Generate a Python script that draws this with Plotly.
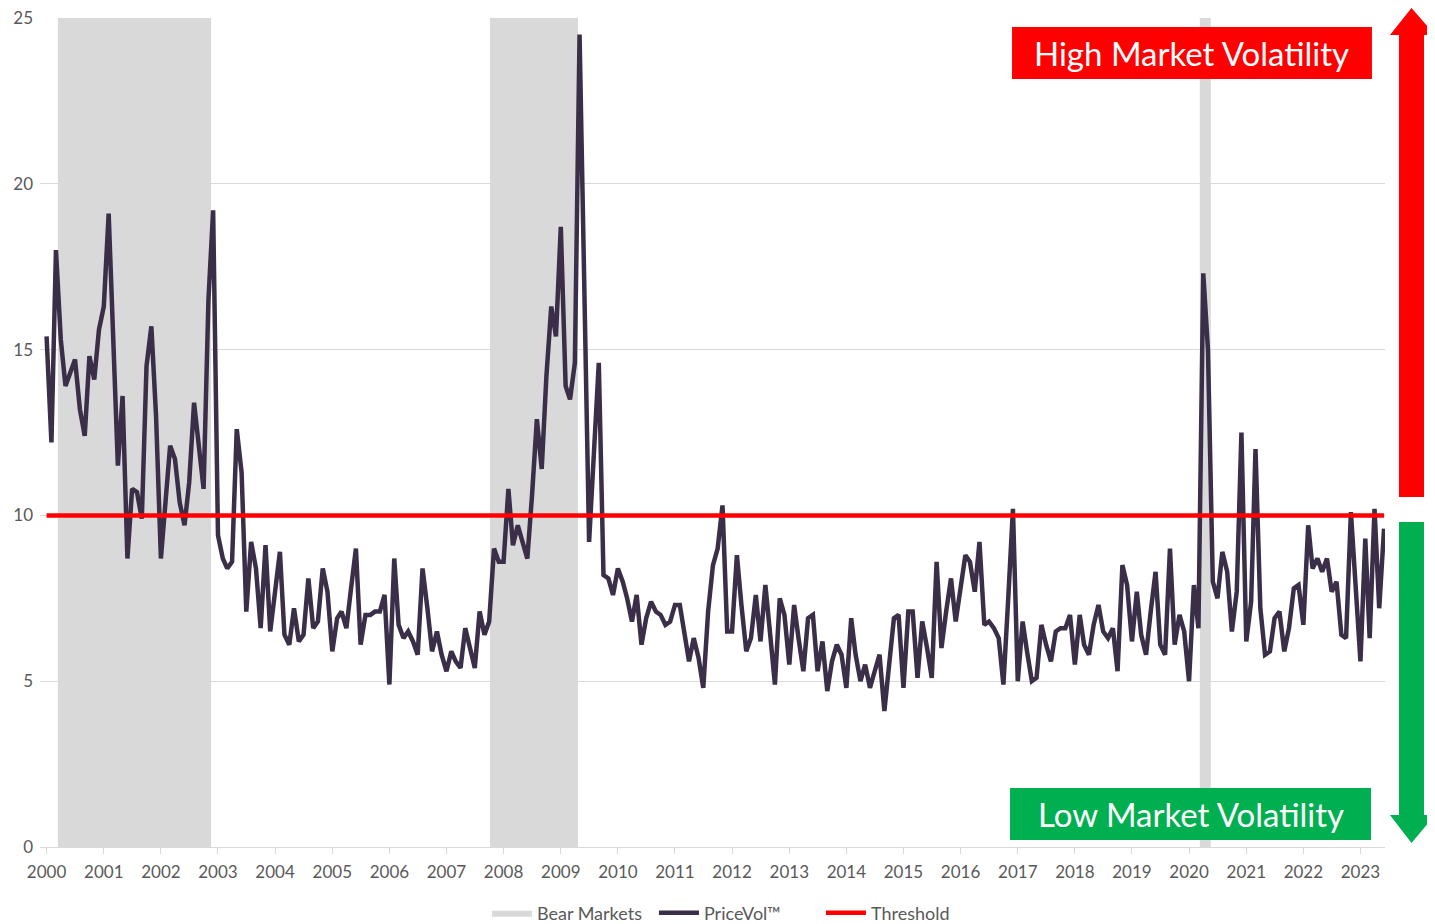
import pandas as pd
import plotly.graph_objects as go

# monthly PriceVol readings, Jan 2000 onwards
pricevol = [
    15.4, 12.2, 18.0, 15.3, 13.9, 14.3, 14.7, 13.2, 12.4, 14.8, 14.1, 15.6,
    16.3, 19.1, 15.3, 11.5, 13.6, 8.7, 10.8, 10.7, 9.9, 14.5, 15.7, 13.0,
    8.7, 10.4, 12.1, 11.7, 10.4, 9.7, 11.0, 13.4, 12.2, 10.8, 16.5, 19.2,
    9.4, 8.7, 8.4, 8.6, 12.6, 11.3, 7.1, 9.2, 8.4, 6.6, 9.1, 6.5,
    7.7, 8.9, 6.4, 6.1, 7.2, 6.2, 6.4, 8.1, 6.6, 6.8, 8.4, 7.7,
    5.9, 6.9, 7.1, 6.6, 7.8, 9.0, 6.1, 7.0, 7.0, 7.1, 7.1, 7.6,
    4.9, 8.7, 6.7, 6.3, 6.5, 6.2, 5.8, 8.4, 7.2, 5.9, 6.5, 5.8,
    5.3, 5.9, 5.6, 5.4, 6.6, 6.0, 5.4, 7.1, 6.4, 6.8, 9.0, 8.6,
    8.6, 10.8, 9.1, 9.7, 9.2, 8.7, 10.6, 12.9, 11.4, 14.2, 16.3, 15.4,
    18.7, 13.9, 13.5, 14.6, 24.5, 16.8, 9.2, 11.9, 14.6, 8.2, 8.1, 7.6,
    8.4, 8.0, 7.5, 6.8, 7.6, 6.1, 6.9, 7.4, 7.1, 7.0, 6.7, 6.8,
    7.3, 7.3, 6.5, 5.6, 6.3, 5.7, 4.8, 7.1, 8.5, 9.0, 10.3, 6.5,
    6.5, 8.8, 7.3, 5.9, 6.3, 7.6, 6.2, 7.9, 6.4, 4.9, 7.5, 7.0,
    5.5, 7.3, 6.3, 5.3, 6.9, 7.0, 5.3, 6.2, 4.7, 5.6, 6.1, 5.8,
    4.8, 6.9, 5.8, 5.0, 5.5, 4.8, 5.3, 5.8, 4.1, 5.5, 6.9, 7.0,
    4.8, 7.1, 7.1, 5.1, 6.8, 6.0, 5.1, 8.6, 6.0, 7.1, 8.1, 6.8,
    7.7, 8.8, 8.6, 7.7, 9.2, 6.7, 6.8, 6.6, 6.3, 4.9, 7.5, 10.2,
    5.0, 6.8, 5.9, 5.0, 5.1, 6.7, 6.1, 5.6, 6.5, 6.6, 6.6, 7.0,
    5.5, 7.0, 6.1, 5.8, 6.7, 7.3, 6.5, 6.3, 6.6, 5.3, 8.5, 7.9,
    6.2, 7.7, 6.4, 5.8, 7.1, 8.3, 6.1, 5.8, 9.0, 6.1, 7.0, 6.5,
    5.0, 7.9, 6.6, 17.3, 15.0, 8.0, 7.5, 8.9, 8.3, 6.5, 7.7, 12.5,
    6.2, 7.4, 12.0, 7.2, 5.8, 5.9, 6.9, 7.1, 5.9, 6.6, 7.8, 7.9,
    6.7, 9.7, 8.4, 8.7, 8.3, 8.7, 7.7, 8.0, 6.4, 6.3, 10.1, 7.9,
    5.6, 9.3, 6.3, 10.2, 7.2, 9.6,
]
dates = pd.date_range("2000-01-01", periods=len(pricevol), freq="MS")

threshold = 10

bear_start = ["2000-03-13", "2007-10-06", "2020-03-10"]
bear_end = ["2002-11-18", "2009-04-21", "2020-05-19"]

years = list(range(2000, 2024))
y_ticks = [0, 5, 10, 15, 20, 25]

GREY_TXT = "#595959"
FONT = "Lato"
YMAX = 25

# bear market blocks as filled polygons (one trace, gaps between)
bx, by = [], []
for s, e in zip(pd.to_datetime(bear_start), pd.to_datetime(bear_end)):
    bx += [s, s, e, e, s, None]
    by += [0, YMAX, YMAX, 0, 0, None]

fig = go.Figure()

fig.add_trace(go.Scatter(
    x=bx, y=by, mode="lines", fill="toself", fillcolor="#d9d9d9",
    line=dict(width=0, color="#d9d9d9"),
    name="Bear Markets", hoverinfo="skip",
))

fig.add_trace(go.Scatter(
    x=dates, y=pricevol, mode="lines", name="PriceVol™",
    line=dict(color="#3a2e48", width=4.5),
))

fig.add_trace(go.Scatter(
    x=[dates[0], dates[-1]], y=[threshold, threshold], mode="lines",
    name="Threshold", line=dict(color="#ff0000", width=4.5),
))

# right hand arrows (paper coords)
red_arrow = ("M 1.0104,0.4222 L 1.0290,0.4222 L 1.0290,0.9795 L 1.0372,0.9795 "
             "L 1.0197,1.0121 L 1.0037,0.9795 L 1.0104,0.9795 Z")
green_arrow = ("M 1.0104,0.3920 L 1.0290,0.3920 L 1.0290,0.0386 L 1.0372,0.0386 "
               "L 1.0197,0.0048 L 1.0037,0.0386 L 1.0104,0.0386 Z")

shapes = [
    dict(type="path", xref="paper", yref="paper", path=red_arrow,
         fillcolor="#ff0000", line=dict(width=0)),
    dict(type="path", xref="paper", yref="paper", path=green_arrow,
         fillcolor="#00b050", line=dict(width=0)),
    dict(type="rect", xref="paper", yref="paper", x0=0.7227, x1=0.9903,
         y0=0.9264, y1=0.9891, fillcolor="#ff0000", line=dict(width=0)),
    dict(type="rect", xref="paper", yref="paper", x0=0.7212, x1=0.9896,
         y0=0.0084, y1=0.0712, fillcolor="#00b050", line=dict(width=0)),
]

annotations = [
    dict(x=(0.7227 + 0.9903) / 2, y=(0.9264 + 0.9891) / 2, xref="paper", yref="paper",
         xanchor="center", yanchor="middle",
         text="High Market Volatility", showarrow=False,
         font=dict(family=FONT, size=33, color="white")),
    dict(x=(0.7212 + 0.9896) / 2, y=(0.0084 + 0.0712) / 2, xref="paper", yref="paper",
         xanchor="center", yanchor="middle",
         text="Low Market Volatility", showarrow=False,
         font=dict(family=FONT, size=33, color="white")),
]

# page body has an 8px margin, so the figure is shrunk by 8px
fig.update_layout(
    width=1427, height=916,
    margin=dict(l=32, r=50, t=10, b=77),
    plot_bgcolor="white", paper_bgcolor="white",
    font=dict(family=FONT, size=17, color=GREY_TXT),
    shapes=shapes,
    annotations=annotations,
    legend=dict(orientation="h", x=0.3323, xanchor="left",
                yref="container", y=0.012, yanchor="middle",
                font=dict(size=18, color=GREY_TXT), traceorder="normal",
                itemwidth=40, entrywidth=112, entrywidthmode="pixels"),
    xaxis=dict(
        type="date",
        range=["1999-11-20", "2023-06-07"],
        tickvals=[pd.Timestamp(f"{y}-01-01") for y in years],
        ticktext=[str(y) for y in years],
        showgrid=False, showline=True, linecolor="#d9d9d9", linewidth=1,
        ticks="outside", tickcolor="#d9d9d9", ticklen=6,
        ticklabelstandoff=4, automargin=False,
        tickfont=dict(size=17, color=GREY_TXT),
    ),
    yaxis=dict(
        range=[0, YMAX], tickvals=y_ticks,
        showgrid=True, gridcolor="#d9d9d9", gridwidth=1,
        zeroline=False, showline=False, automargin=False,
        ticklabelstandoff=6, ticklabeloverflow="allow",
        tickfont=dict(size=17, color=GREY_TXT),
    ),
)

fig.write_html("out.html")
